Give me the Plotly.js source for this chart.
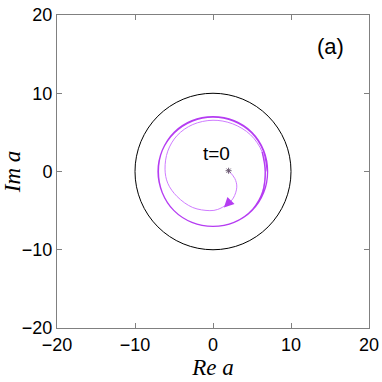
<!DOCTYPE html>
<html>
<head>
<meta charset="utf-8">
<script src="https://cdn.plot.ly/plotly-3.0.1.min.js"></script>
<style>
  html, body { margin: 0; padding: 0; background: #fff; }
  #plot { width: 382px; height: 382px; }
</style>
</head>
<body>
<div id="plot"></div>
<script>
// boundary circle radius
var circleRadius = [10];

// first turn of the trajectory (thin)
var innerX = [2.0, 2.8, 3.05, 2.6, 1.8, 0.6, -0.4, -2.6, -4.6, -5.8, -6.15, -5.8, -4.6, -2.6, 0.0, 2.5, 4.8, 6.3, 6.7, 6.4];
var innerY = [0.1, -0.9, -2.0, -3.4, -4.2, -4.85, -5.0, -4.6, -3.2, -1.5, 0.3, 2.6, 4.6, 6.0, 6.55, 6.1, 4.7, 2.5, 0.0, -2.5];

// outer turns near the limit cycle (thick)
var outerX = [6.3, 6.7, 6.4, 5.1, 2.7, 0.0, -2.7, -5.0, -6.5, -7.05, -6.5, -5.0, -2.7, 0.0, 2.7, 5.0, 6.5, 7.0, 6.5, 5.0, 2.7, 0.0, -2.7, -5.0, -6.5, -7.0, -6.5, -4.95, -2.65, 0.0, 2.65, 4.95, 6.45, 6.95];
var outerY = [2.5, 0.0, -2.5, -4.8, -6.5, -7.0, -6.5, -5.0, -2.7, 0.0, 2.7, 5.0, 6.5, 7.0, 6.5, 5.0, 2.7, 0.0, -2.7, -5.0, -6.5, -7.0, -6.5, -5.0, -2.7, 0.0, 2.7, 4.95, 6.45, 6.95, 6.45, 4.95, 2.65, 0.0];

var startX = [2.0];
var startY = [0.1];

var tickVals = [-20, -10, 0, 10, 20];

var inner = {
    x: innerX, y: innerY,
    mode: "lines",
    line: {color: "#cf7cff", width: 1, shape: "spline"},
    hoverinfo: "skip"
};
var outer = {
    x: outerX, y: outerY,
    mode: "lines",
    line: {color: "#b53cf2", width: 1.3, shape: "spline"},
    hoverinfo: "skip"
};
var start = {
    x: startX, y: startY,
    mode: "markers",
    marker: {symbol: "asterisk-open", size: 5, color: "#6a5a70", line: {width: 1, color: "#6a5a70"}},
    hoverinfo: "skip"
};

var tickFont = {family: "Liberation Sans, Arial, sans-serif", size: 18, color: "#000"};
var labelFont = {family: "Liberation Serif, Times New Roman, serif", size: 23, color: "#000"};

var axisCommon = {
    range: [-20, 20],
    tickvals: tickVals,
    ticks: "inside",
    ticklen: 5,
    tickcolor: "#808080",
    showline: true,
    linecolor: "#808080",
    linewidth: 1,
    mirror: "ticks",
    showgrid: false,
    zeroline: false,
    tickfont: tickFont
};

var layout = {
    width: 382,
    height: 382,
    margin: {l: 57, r: 13, t: 15, b: 54},
    showlegend: false,
    paper_bgcolor: "#fff",
    plot_bgcolor: "#fff",
    xaxis: Object.assign({}, axisCommon, {
        title: {text: "<i>Re a</i>", font: labelFont, standoff: 1}
    }),
    yaxis: Object.assign({}, axisCommon, {
        title: {text: "<i>Im a</i>", font: labelFont, standoff: 3}
    }),
    shapes: [{
        type: "circle", xref: "x", yref: "y",
        x0: -circleRadius[0], x1: circleRadius[0],
        y0: -circleRadius[0], y1: circleRadius[0],
        line: {color: "#000", width: 1}
    }],
    annotations: [
        {x: 0.4, y: 2.3, xref: "x", yref: "y", text: "t=0", showarrow: false,
         font: {family: tickFont.family, size: 19, color: "#000"}},
        {x: 15.1, y: 16.0, xref: "x", yref: "y", text: "(a)", showarrow: false,
         font: {family: tickFont.family, size: 22, color: "#000"}},
        {x: 1.4, y: -4.6, ax: 2.3, ay: -3.7, xref: "x", yref: "y", axref: "x", ayref: "y",
         text: "", showarrow: true, arrowhead: 2, arrowsize: 1, arrowwidth: 2, arrowcolor: "#b53cf2"}
    ]
};

Plotly.newPlot("plot", [inner, outer, start], layout, {staticPlot: true});
</script>
</body>
</html>
